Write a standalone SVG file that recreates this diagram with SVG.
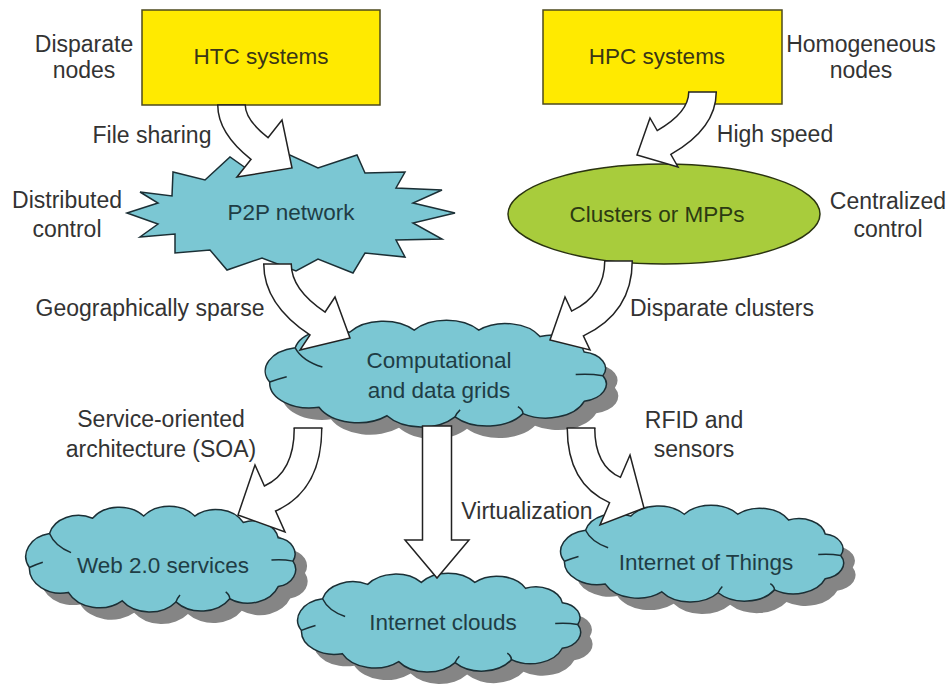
<svg xmlns="http://www.w3.org/2000/svg" width="949" height="688" viewBox="0 0 949 688">
<style>
.lbl{font-family:"Liberation Sans",Arial,sans-serif;font-size:23px;fill:#333;text-anchor:middle}
.ntx{font-family:"Liberation Sans",Arial,sans-serif;font-size:22.5px;fill:#1f3d45;text-anchor:middle}
.btx{font-family:"Liberation Sans",Arial,sans-serif;font-size:22.5px;fill:#3a3616;text-anchor:middle}
.box{fill:#ffea00;stroke:#4d4a1e;stroke-width:1.5}
.cl{fill:#7bc7d3;stroke:#1b2f35;stroke-width:1.5}
.sh{fill:#858585;stroke:none}
.inner{fill:none;stroke:#1b2f35;stroke-width:1.5}
.ell{fill:#a8cc3c;stroke:#2a3310;stroke-width:1.5}
.sk{fill:none;stroke:#222;stroke-width:29;stroke-linecap:butt}
.sw{fill:none;stroke:#fff;stroke-width:26;stroke-linecap:butt}
.hd{fill:#fff;stroke:#222;stroke-width:1.5;stroke-linejoin:miter}
.tl{stroke:#222;stroke-width:1.5}
</style>
<defs>
<path id="cloud" vector-effect="non-scaling-stroke" d="M16 26 A22 22 0 0 1 48 11.5 A24 24 0 0 1 86 9.5 A24 24 0 0 1 124 9.5 A23 23 0 0 1 160 15.5 A19 19 0 0 1 186 30 A15.5 15.5 0 0 1 197 52 A16.5 16.5 0 0 1 186 76 A24 24 0 0 1 150 87.5 A25 25 0 0 1 110 90.5 A25 25 0 0 1 70 89.5 A25.5 25.5 0 0 1 30 81.5 A23.5 23.5 0 0 1 1 58 A22 22 0 0 1 16 26 Z"/>
<path id="cloudIn" vector-effect="non-scaling-stroke" d="M16 26 Q20 38 32 44 M197 52 Q189 50 181 51 M1 58 Q6 55 11 53 M110 90.5 Q111 87 113 84 M150 87.5 Q150 84 147 81"/>
</defs>

<g id="htc">
<rect class="box" x="142" y="10" width="238" height="95"/>
<text class="btx" x="261" y="64">HTC systems</text>
</g>

<g id="hpc">
<rect class="box" x="543" y="10" width="239" height="94"/>
<text class="btx" x="657" y="64">HPC systems</text>
</g>

<g id="p2p">
<polygon class="cl" points="127,213 158,203 140,192 172,196 173,172 205,180 230,157 250,171 290,155 318,168 357,155 365,173 405,172 396,188 442,190 413,203 455,213 413,223 442,239 396,240 405,257 365,253 353,273 318,259 296,271 262,258 227,270 210,250 175,253 175,234 140,237 158,224"/>
<text class="ntx" x="291" y="220">P2P network</text>
</g>

<g id="clusters">
<ellipse class="ell" cx="664" cy="214" rx="156" ry="50"/>
<text class="btx" x="657" y="222" style="fill:#2c3a12">Clusters or MPPs</text>
</g>

<g id="grids">
<use href="#cloud" class="sh" transform="translate(280,332) scale(1.7,1.07)"/>
<use href="#cloud" class="cl" transform="translate(268,320) scale(1.7,1.07)"/>
<use href="#cloudIn" class="inner" transform="translate(268,320) scale(1.7,1.07)"/>
<text class="ntx" x="439" y="368">Computational</text>
<text class="ntx" x="439" y="398">and data grids</text>
</g>

<g id="web20">
<use href="#cloud" class="sh" transform="translate(40,518) scale(1.345,1.06)"/>
<use href="#cloud" class="cl" transform="translate(28,506) scale(1.345,1.06)"/>
<use href="#cloudIn" class="inner" transform="translate(28,506) scale(1.345,1.06)"/>
<text class="ntx" x="163" y="573">Web 2.0 services</text>
</g>

<g id="inetclouds">
<use href="#cloud" class="sh" transform="translate(312,585) scale(1.41,0.99)"/>
<use href="#cloud" class="cl" transform="translate(300,573) scale(1.41,0.99)"/>
<use href="#cloudIn" class="inner" transform="translate(300,573) scale(1.41,0.99)"/>
<text class="ntx" x="443" y="630">Internet clouds</text>
</g>

<g id="iot">
<use href="#cloud" class="sh" transform="translate(575,517) scale(1.41,0.97)"/>
<use href="#cloud" class="cl" transform="translate(563,505) scale(1.41,0.97)"/>
<use href="#cloudIn" class="inner" transform="translate(563,505) scale(1.41,0.97)"/>
<text class="ntx" x="706" y="570">Internet of Things</text>
</g>

<g id="connectors">
<g id="a-filesharing">
<path class="sk" d="M231.5 105 Q231.5 126.4 259.5 148.5 L261.9 150.4"/>
<polygon class="hd" points="237,177 292,168 282,120"/>
<path class="sw" d="M231.5 105 Q231.5 126.4 259.5 148.5 L261.9 150.4"/>
<line class="tl" x1="217" y1="105" x2="246" y2="105"/>
</g>
<g id="a-highspeed">
<path class="sk" d="M702.5 92 Q702.5 120.5 664 142.5 L661.4 144"/>
<polygon class="hd" points="650,118 637,155 678,167"/>
<path class="sw" d="M702.5 92 Q702.5 120.5 664 142.5 L661.4 144"/>
<line class="tl" x1="688" y1="92" x2="717" y2="92"/>
</g>
<g id="a-geo">
<path class="sk" d="M277.5 264 Q277.5 297 317.5 323.5 L320 325.2"/>
<polygon class="hd" points="300,350 350,338 335,297"/>
<path class="sw" d="M277.5 264 Q277.5 297 317.5 323.5 L320 325.2"/>
<line class="tl" x1="263" y1="264" x2="292" y2="264"/>
</g>
<g id="a-disparate">
<path class="sk" d="M618.5 261 Q618.5 304 577.5 323.5 L574.8 324.8"/>
<polygon class="hd" points="565,297 550,340 590,350"/>
<path class="sw" d="M618.5 261 Q618.5 304 577.5 323.5 L574.8 324.8"/>
<line class="tl" x1="604" y1="261" x2="633" y2="261"/>
</g>
<g id="a-soa">
<path class="sk" d="M308 428 Q308 481.5 270 498.5 L267.3 499.7"/>
<polygon class="hd" points="255,465 238,515 285,532"/>
<path class="sw" d="M308 428 Q308 481.5 270 498.5 L267.3 499.7"/>
<line class="tl" x1="293.5" y1="428" x2="322.5" y2="428"/>
</g>
<g id="a-virt">
<polygon class="hd" points="422.5,426 451.5,426 451.5,540 469,540 437,578 405,540 422.5,540"/>
</g>
<g id="a-rfid">
<path class="sk" d="M581 428 Q581 475 615 490 L617.8 491.2"/>
<polygon class="hd" points="630,455 644,508 600,525"/>
<path class="sw" d="M581 428 Q581 475 615 490 L617.8 491.2"/>
<line class="tl" x1="566.5" y1="428" x2="595.5" y2="428"/>
</g>
</g>

<g id="labels">
<text class="lbl" x="84" y="52">Disparate</text>
<text class="lbl" x="84" y="78">nodes</text>
<text class="lbl" x="861" y="52">Homogeneous</text>
<text class="lbl" x="861" y="78">nodes</text>
<text class="lbl" x="152" y="143">File sharing</text>
<text class="lbl" x="775" y="142">High speed</text>
<text class="lbl" x="67" y="208">Distributed</text>
<text class="lbl" x="67" y="237">control</text>
<text class="lbl" x="888" y="209">Centralized</text>
<text class="lbl" x="888" y="237">control</text>
<text class="lbl" x="150" y="316">Geographically sparse</text>
<text class="lbl" x="722" y="316">Disparate clusters</text>
<text class="lbl" x="161" y="427">Service-oriented</text>
<text class="lbl" x="161" y="457">architecture (SOA)</text>
<text class="lbl" x="527" y="519">Virtualization</text>
<text class="lbl" x="694" y="428">RFID and</text>
<text class="lbl" x="694" y="457">sensors</text>
</g>
</svg>
